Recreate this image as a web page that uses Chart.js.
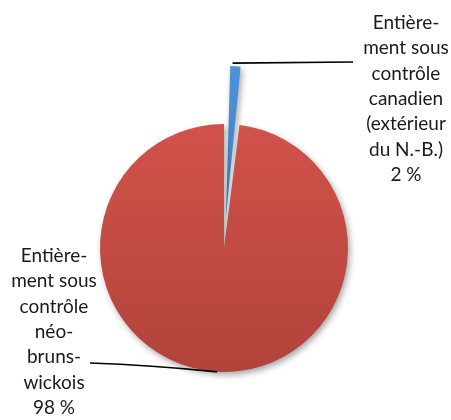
<!DOCTYPE html>
<html>
<head>
<meta charset="utf-8">
<script src="https://cdn.jsdelivr.net/npm/chart.js@4/dist/chart.umd.min.js"></script>
<style>
  html, body { margin: 0; padding: 0; background: #fff; }
  #wrap { width: 451px; height: 420px; position: relative; }
</style>
</head>
<body>
<div id="wrap"><canvas id="pie"></canvas></div>
<script>
// Ownership shares (percent)
const categories = [
  ["Entière-", "ment sous", "contrôle", "canadien", "(extérieur", "du N.-B.)"],
  ["Entière-", "ment sous", "contrôle", "néo-", "bruns-", "wickois"]
];
const shares = [2, 98];
const sliceOffsets = [124, 0]; // arc element moves by half of this

const FONT = '19px Lato, "Open Sans", sans-serif';

// Vertical gradient per slice, lighter on top
function sliceFill(context) {
  const chart = context.chart;
  if (!chart.chartArea) return null;
  const g = chart.ctx.createLinearGradient(0, 60, 0, 372);
  if (context.dataIndex === 0) {
    g.addColorStop(0, "#5197dc");
    g.addColorStop(1, "#3470b5");
  } else {
    g.addColorStop(0, "#d9564e");
    g.addColorStop(1, "#b2433b");
  }
  return g;
}

// Soft shadow under the slices
const shadowPlugin = {
  id: "pieShadow",
  beforeDatasetDraw(chart) {
    const ctx = chart.ctx;
    ctx.save();
    ctx.shadowColor = "rgba(0,0,0,0.35)";
    ctx.shadowBlur = 6;
    ctx.shadowOffsetX = 2;
    ctx.shadowOffsetY = 3;
  },
  afterDatasetDraw(chart) {
    chart.ctx.restore();
  }
};

// Leader lines and multi-line labels
const labelPlugin = {
  id: "sliceLabels",
  afterDraw(chart) {
    const ctx = chart.ctx;
    const arcs = chart.getDatasetMeta(0).data;
    const lineH = 25.3;
    ctx.save();
    ctx.font = FONT;
    ctx.fillStyle = "#1a1a1a";
    ctx.textAlign = "center";
    ctx.textBaseline = "middle";
    ctx.strokeStyle = "#000";
    ctx.lineWidth = 1.7;

    // small slice: label top right
    const a0 = arcs[0];
    const midAll0 = (a0.startAngle + a0.endAngle) / 2;
    const shift = sliceOffsets[0] / 2;
    const cx0 = a0.x + Math.cos(midAll0) * shift;
    const cy0 = a0.y + Math.sin(midAll0) * shift;
    const ang0 = a0.startAngle + 0.3 * (a0.endAngle - a0.startAngle);
    const p0 = { x: cx0 + Math.cos(ang0) * a0.outerRadius, y: cy0 + Math.sin(ang0) * a0.outerRadius };
    ctx.beginPath();
    ctx.moveTo(p0.x, p0.y + 1);
    ctx.lineTo(353, 62);
    ctx.stroke();
    const lines0 = categories[0].concat([shares[0] + " %"]);
    lines0.forEach((t, i) => ctx.fillText(t, 406, 23 + i * lineH));

    // large slice: label bottom left
    const a1 = arcs[1];
    const ang1 = Math.PI / 2 + 0.055;
    const p1 = { x: a1.x + Math.cos(ang1) * a1.outerRadius, y: a1.y + Math.sin(ang1) * a1.outerRadius };
    ctx.beginPath();
    ctx.moveTo(90, 363);
    ctx.quadraticCurveTo(150, 365, p1.x, p1.y);
    ctx.stroke();
    const lines1 = categories[1].concat([shares[1] + " %"]);
    lines1.forEach((t, i) => ctx.fillText(t, 54, 256 + i * lineH));
    ctx.restore();
  }
};

new Chart(document.getElementById("pie").getContext("2d"), {
  type: "pie",
  data: {
    labels: categories.map((c) => c.join(" ")),
    datasets: [{
      data: shares,
      backgroundColor: sliceFill,
      borderWidth: 0,
      offset: sliceOffsets
    }]
  },
  options: {
    responsive: true,
    maintainAspectRatio: false,
    animation: false,
    radius: 124,
    layout: { padding: { left: 0, right: 3, top: 100, bottom: 24 } },
    plugins: {
      legend: { display: false },
      tooltip: { enabled: false }
    }
  },
  plugins: [shadowPlugin, labelPlugin]
});
</script>
</body>
</html>
